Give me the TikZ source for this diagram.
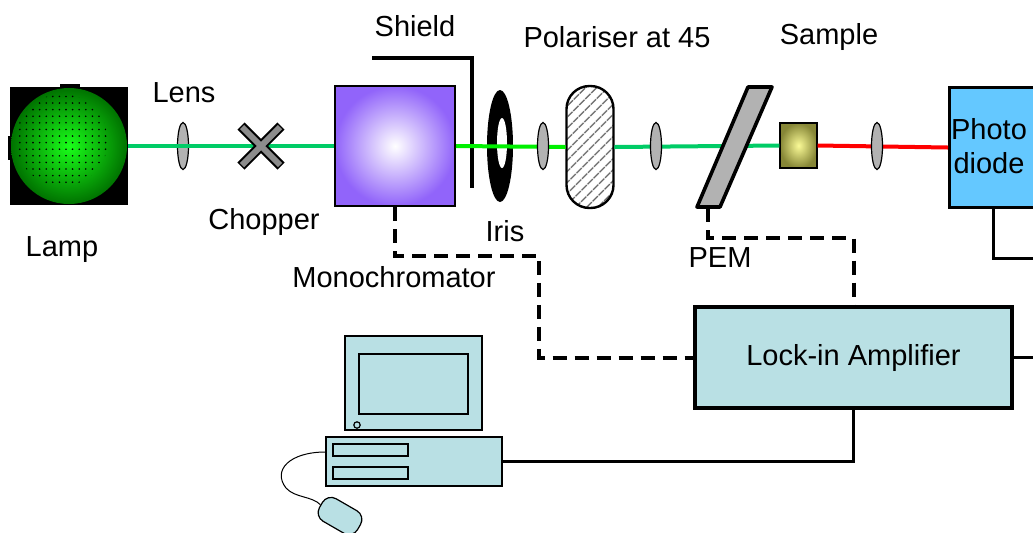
\documentclass[tikz,border=0pt]{standalone}
\usepackage{fontspec}
\setmainfont{Liberation Sans}
\usetikzlibrary{shapes.geometric,patterns.meta}

\definecolor{beamgreen}{RGB}{0,204,102}
\definecolor{brightgreen}{RGB}{0,240,0}
\definecolor{monopurple}{RGB}{145,100,250}
\definecolor{diodeblue}{RGB}{100,200,255}
\definecolor{boxcyan}{RGB}{185,224,228}
\definecolor{sampleolive}{RGB}{135,135,55}
\definecolor{sampleyellow}{RGB}{250,250,150}

\tikzset{
    lbl/.style={font=\fontsize{14.5}{17}\selectfont},
    lensshape/.style={ellipse, draw, fill=black!30, line width=0.6pt,
        minimum width=5.5pt, minimum height=23.5pt, inner sep=0pt},
    beam/.style={line width=2pt, beamgreen},
    sig/.style={line width=2pt, dash pattern=on 7pt off 4pt},
    wire/.style={line width=1.5pt},
    unit/.style={draw, fill=boxcyan, line width=0.6pt, inner sep=0pt}
}

\begin{document}
\begin{tikzpicture}[x=0.5pt, y=-0.5pt]
    \useasboundingbox (0,0) rectangle (1033,532);
    \fill[white] (0,0) rectangle (1033,532);

    % light source
    \node[fill=black, minimum size=59pt, inner sep=0pt] (lamp) at (69,146) {};
    \fill (60,84) rectangle (80,88);
    \fill (8,136) rectangle (11,160);
    \shade[inner color=green!90!white, outer color=green!45!black] (69,146) circle (29pt);
    \begin{scope}
        \clip (62,140) circle (23pt);
        \fill[pattern={Dots[distance=3.3pt, radius=0.45pt]}, pattern color=black] (10,86) rectangle (128,205);
    \end{scope}
    \node[lbl] (lamplabel) at (62,250) {Lamp};

    \node[lensshape] (lens1) at (183,146) {};
    \node[lbl] (lenslabel) at (184,93) {Lens};

    \node[lbl] (chopperlabel) at (264,222) {Chopper};

    \node[draw, line width=1pt, minimum size=60pt, inner sep=0pt,
        inner color=white, outer color=monopurple] (mono) at (395,146) {};
    \node[lbl] (monolabel) at (394,277) {Monochromator};

    \draw[line width=2pt] (372,58) -| (472,188);
    \node[lbl] (shieldlabel) at (415,26) {Shield};

    % iris sits under the beam
    \node[ellipse, fill=black, minimum width=13pt, minimum height=56pt, inner sep=0pt] (iris) at (500,146) {};
    \node[ellipse, fill=white, minimum width=5pt, minimum height=25pt, inner sep=0pt] (irishole) at (502,143) {};
    \node[lbl] (irislabel) at (505,231) {Iris};

    \node[draw, rounded corners=11.5pt, line width=1.2pt, fill=white,
        minimum width=23.5pt, minimum height=61pt, inner sep=0pt,
        pattern={Lines[angle=45, distance=4pt, line width=0.8pt]}, pattern color=black!65] (pol) at (590,147) {};
    \node[lbl] (pollabel) at (617,37) {Polariser at 45};

    \node[draw, line width=0.6pt, minimum width=18.5pt, minimum height=22.5pt, inner sep=0pt,
        inner color=sampleyellow, outer color=sampleolive] (sample) at (798.5,145.5) {};
    \node[lbl] (samplelabel) at (829,37) {Sample};

    \node[draw, fill=diodeblue, line width=1.5pt, anchor=north west,
        minimum width=44pt, minimum height=60pt] (pd) at (948,86) {};
    \node[lbl, align=center] (pdlabel) at (989,146) {Photo\\diode};

    % beam path
    \draw[beam] (lamp.east) -- (mono.west);
    \draw[beam, brightgreen] (mono.east) -- (pol.west);
    \draw[beam] (pol.east) -- (sample.west);
    \draw[beam, red] (sample.east) -- (pd.west);

    \node[lensshape] (lens2) at (543,146) {};
    \node[lensshape] (lens3) at (656,146) {};
    \node[lensshape] (lens4) at (877,146) {};

    % chopper blades
    \draw[line width=5pt] (241,126) -- (281,166) (241,166) -- (281,126);
    \draw[line width=3pt, black!45] (242,127) -- (280,165) (242,165) -- (280,127);

    % PEM
    \draw[line width=1.8pt, fill=black!30, line join=round] (748,87) -- (772,87) -- (720,207) -- (697,207) -- cycle;
    \coordinate (pem) at (708,208);
    \node[lbl] (pemlabel) at (720,258) {PEM};

    \node[unit, line width=1.75pt, minimum width=158.5pt, minimum height=50.5pt, lbl] (lockin) at (853.5,357.5) {Lock-in Amplifier};

    % computer
    \node[unit, minimum width=68.5pt, minimum height=47pt] (monitor) at (413.5,383) {};
    \node[unit, minimum width=54.5pt, minimum height=30pt] (screen) at (413.5,384) {};
    \draw[line width=0.6pt] (357,425) circle (1.6pt);
    \node[unit, minimum width=88pt, minimum height=24.5pt] (pc) at (414,461.5) {};
    \node[unit, minimum width=37.5pt, minimum height=6pt] (slot1) at (370.5,450) {};
    \node[unit, minimum width=37.5pt, minimum height=6pt] (slot2) at (370.5,473) {};
    \node[unit, rounded corners=5pt, minimum width=22pt, minimum height=13pt, rotate=-30] (mouse) at (340,516) {};
    \draw[line width=0.5pt] ([yshift=4.75pt]pc.west) .. controls (290,452) and (272,470) .. (286,488)
        .. controls (295,498) and (312,496) .. (mouse.west);

    % signal lines
    \draw[sig] (mono.south) -- ++(0,49) -| ([xshift=-77pt]lockin.west) -- (lockin.west);
    \draw[sig] (pem) -- ++(0,30) -| (lockin.north);
    \draw[wire] (pd.south) |- (1040,258);
    \draw[wire] (lockin.east) -- (1040,357.5);
    \draw[wire] (lockin.south) |- (pc.east);
\end{tikzpicture}
\end{document}
